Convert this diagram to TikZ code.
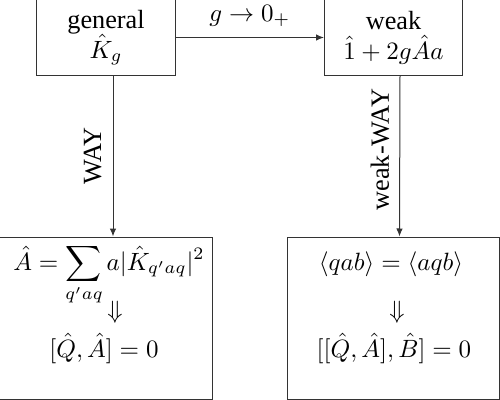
\documentclass[tikz,border=0pt]{standalone}
\usepackage{fix-cm}
\usepackage{fontspec}
\setmainfont{Liberation Serif}[Scale=1.05]
\usetikzlibrary{arrows.meta}
\begin{document}
\begin{tikzpicture}[x=0.4pt,y=-0.4pt,
  box/.style={draw=black!80,line width=0.4pt,inner sep=0pt},
  topbox/.style={box,minimum width=55.2pt,minimum height=30pt,align=center,font=\linespread{1}\fontsize{10}{12}\selectfont},
  botbox/.style={box,minimum width=84.8pt,minimum height=64.8pt},
  txt/.style={inner sep=0pt,font=\fontsize{10}{12}\selectfont},
  arr/.style={draw=black!80,line width=0.4pt,-{Latex[length=3.2pt,width=2.6pt]}},
  lab/.style={font=\fontsize{10}{12}\selectfont,inner sep=0pt}]
\useasboundingbox (0,0) rectangle (500,400);
\node[topbox] (gen) at (106,37.5) {general\\$\hat K_g$};
\node[topbox] (weak) at (393.5,37.5) {weak\\$\hat 1+2g\hat A a$};
\node[botbox] (bl) at (106,318) {};
\node[botbox] (br) at (393,318) {};
\node[txt,anchor=base] (l1) at (109,270) {$\displaystyle \hat A=\sum_{q'aq} a|\hat K_{q'aq}|^2$};
\node[txt] (l2) at (115,312) {$\Downarrow$};
\node[txt,anchor=base] (l3) at (104,357) {$[\hat Q,\hat A]=0$};
\node[txt,anchor=base] (r1) at (391,270) {$\langle qab\rangle=\langle aqb\rangle$};
\node[txt] (r2) at (397,312) {$\Downarrow$};
\node[txt,anchor=base] (r3) at (394,357) {$[[\hat Q,\hat A],\hat B]=0$};
\draw[arr] (gen.east) -- node[lab,above=4pt] (glab) {$g\to 0_+$} (weak.west);
\draw[arr] ([xshift=2.8pt]gen.south) -- node[lab,pos=0.5,rotate=90,anchor=south,yshift=4.4pt] (way) {WAY} ([xshift=2.8pt]bl.north);
\draw[arr] ([xshift=2.6pt]weak.south) -- node[lab,pos=0.46,rotate=90,anchor=south,yshift=4pt] (wway) {weak-WAY} ([xshift=2.6pt]br.north);
\end{tikzpicture}
\end{document}
